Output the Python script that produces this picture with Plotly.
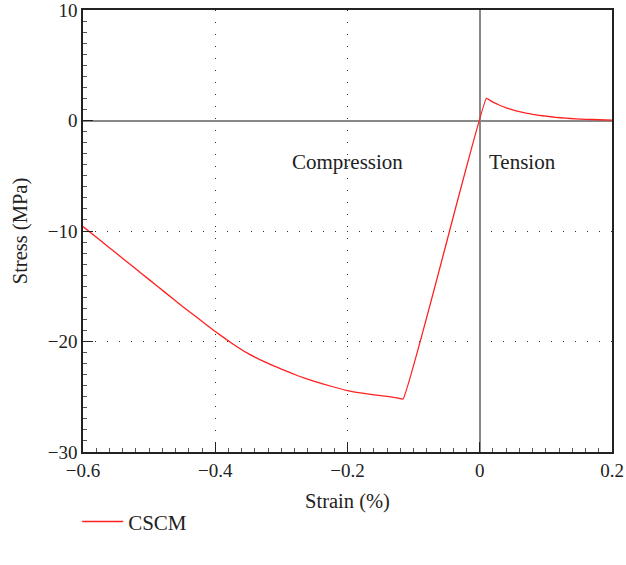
import plotly.graph_objects as go

strain = [-0.6, -0.575, -0.55, -0.525, -0.5, -0.475, -0.45, -0.425, -0.4, -0.375,
          -0.35, -0.325, -0.3, -0.275, -0.25, -0.225, -0.2, -0.175, -0.15, -0.13, -0.116,
          0.01, 0.02, 0.03, 0.04, 0.05, 0.06, 0.07, 0.08, 0.09, 0.1, 0.115, 0.13,
          0.145, 0.16, 0.18, 0.2]
stress = [-9.6, -10.8, -12.0, -13.2, -14.4, -15.6, -16.8, -17.95, -19.1, -20.15,
          -21.1, -21.85, -22.5, -23.1, -23.6, -24.05, -24.45, -24.7, -24.9, -25.05, -25.2,
          2.0, 1.66, 1.38, 1.15, 0.96, 0.80, 0.67, 0.56, 0.47, 0.39, 0.29, 0.21,
          0.15, 0.11, 0.07, 0.04]

x_ticks = [-0.6, -0.4, -0.2, 0, 0.2]
x_labels = ["\u22120.6", "\u22120.4", "\u22120.2", "0", "0.2"]
y_ticks = [-30, -20, -10, 0, 10]
y_labels = ["\u221230", "\u221220", "\u221210", "0", "10"]

FONT = "Liberation Serif"
TXT = "#222222"

fig = go.Figure()
fig.add_trace(go.Scatter(x=strain, y=stress, mode="lines", name="CSCM",
                         line=dict(color="#ff2020", width=1.3, shape="spline", smoothing=0.3)))

axis_common = dict(
    showline=True, linecolor="#222222", linewidth=1.6, mirror=True,
    ticks="inside", ticklen=10, tickwidth=1.4, tickcolor="#222222",
    showgrid=True, gridcolor="#333333", gridwidth=1, griddash="1px,11px",
    zeroline=True, zerolinecolor="#888888", zerolinewidth=1.5,
    tickfont=dict(family=FONT, size=19, color=TXT),
    ticklabeloverflow="allow",
    automargin=False,
)

fig.update_xaxes(range=[-0.6, 0.2], tickvals=x_ticks, ticktext=x_labels,
                 minor=dict(ticks="inside", ticklen=4, dtick=0.02, tick0=0,
                            tickcolor="#555555", showgrid=False),
                 title=dict(text="Strain (%)", font=dict(family=FONT, size=20.5, color=TXT),
                            standoff=14),
                 **axis_common)
fig.update_yaxes(range=[-30, 10], tickvals=y_ticks, ticktext=y_labels,
                 minor=dict(ticks="inside", ticklen=4, dtick=1, tick0=0,
                            tickcolor="#555555", showgrid=False),
                 title=dict(text="Stress (MPa)", font=dict(family=FONT, size=20.5, color=TXT),
                            standoff=15),
                 **axis_common)

fig.add_annotation(x=-0.2, y=-3.8, text="Compression", showarrow=False,
                   font=dict(family=FONT, size=21, color=TXT))
fig.add_annotation(x=0.065, y=-3.8, text="Tension", showarrow=False,
                   font=dict(family=FONT, size=21, color=TXT))

fig.update_layout(
    width=626, height=565,
    margin=dict(l=83, r=14, t=10, b=113),
    plot_bgcolor="white", paper_bgcolor="white",
    showlegend=True,
    legend=dict(orientation="h", x=-0.011, xanchor="left", y=-0.158, yanchor="middle",
                itemwidth=41,
                font=dict(family=FONT, size=21, color=TXT)),
)

fig.write_html("out.html", config={"displayModeBar": False},
               post_script="document.body.style.margin='0';")
